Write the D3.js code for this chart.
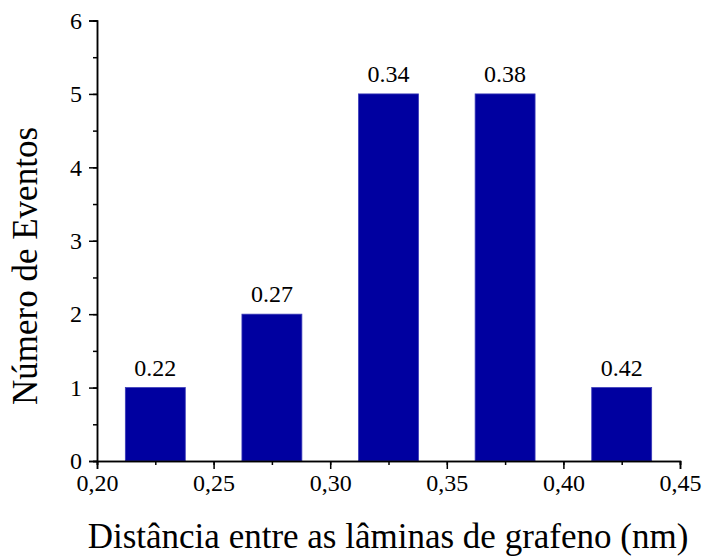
<!DOCTYPE html>
<html><head><meta charset="utf-8">
<script src="https://cdn.jsdelivr.net/npm/d3@7"></script>
<style>body{margin:0;background:#fff}</style>
</head><body>
<svg id="c" width="703" height="559"></svg>
<script>
const centers = [0.225, 0.275, 0.325, 0.375, 0.425];
const counts = [1, 2, 5, 5, 1];
const barLabels = ["0.22", "0.27", "0.34", "0.38", "0.42"];
const xTicks = [0.20, 0.25, 0.30, 0.35, 0.40, 0.45];
const yTicks = [0, 1, 2, 3, 4, 5, 6];
const barWidth = 0.0257;
const FONT = "'Liberation Serif', Tinos, 'Times New Roman', Times, serif";

const svg = d3.select("#c");
const x = d3.scaleLinear().domain([0.20, 0.45]).range([97, 680]);
const y = d3.scaleLinear().domain([0, 6]).range([461, 20.5]);

svg.selectAll("rect.bar").data(centers).join("rect")
  .attr("class","bar")
  .attr("x", d => x(d - barWidth/2))
  .attr("width", d => x(d + barWidth/2) - x(d - barWidth/2))
  .attr("y", (d,i) => y(counts[i]))
  .attr("height", (d,i) => y(0) - y(counts[i]))
  .attr("fill", "#0000a0")
  .attr("stroke", "#3a3ab8").attr("stroke-width", 0.8);

svg.selectAll("text.bl").data(centers).join("text")
  .attr("class","bl")
  .attr("x", d => x(d))
  .attr("y", (d,i) => y(counts[i]) - 12)
  .attr("text-anchor","middle")
  .style("font-family", FONT).style("font-size", "24px")
  .text((d,i) => barLabels[i]);

// x axis
const gx = svg.append("g").attr("transform", `translate(0,${y(0)})`);
gx.call(d3.axisBottom(x).tickValues(d3.range(0.2, 0.4501, 0.025)).tickSize(4).tickFormat(""));
gx.selectAll(".tick line").attr("stroke-width",1.5);
const gx2 = svg.append("g").attr("transform", `translate(0,${y(0)})`);
gx2.call(d3.axisBottom(x).tickValues(xTicks).tickSize(8).tickPadding(5)
  .tickFormat(d => d3.format(".2f")(d).replace(".", ",")));
gx2.selectAll(".tick text").style("font-size", "24px").style("font-family", FONT);
gx2.selectAll(".tick line").attr("stroke-width",1.5);

// y axis
const gy = svg.append("g").attr("transform", `translate(${x(0.2)},0)`);
gy.call(d3.axisLeft(y).tickValues(d3.range(0, 6.01, 0.5)).tickSize(4).tickFormat(""));
gy.selectAll(".tick line").attr("stroke-width",1.5);
const gy2 = svg.append("g").attr("transform", `translate(${x(0.2)},0)`);
gy2.call(d3.axisLeft(y).tickValues(yTicks).tickSize(8).tickPadding(7).tickFormat(d3.format("d")));
gy2.selectAll(".tick text").style("font-size", "24px").style("font-family", FONT);
gy2.selectAll(".tick line").attr("stroke-width",1.5);
svg.selectAll(".domain").attr("stroke-width",1.5).attr("stroke","#000");

svg.append("text").attr("x", 388).attr("y", 548).attr("text-anchor","middle")
  .style("font-family", FONT).style("font-size", "35px")
  .text("Distância entre as lâminas de grafeno (nm)");
svg.append("text").attr("transform","translate(37,266) rotate(-90)").attr("text-anchor","middle")
  .style("font-family", FONT).style("font-size", "35px")
  .text("Número de Eventos");
</script>
</body></html>
